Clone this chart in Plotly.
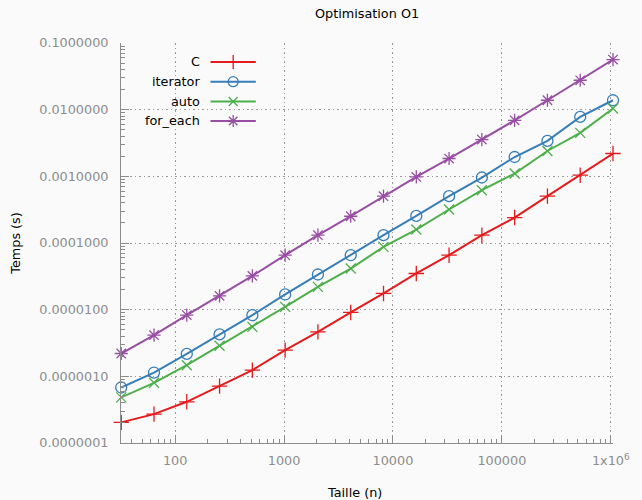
import math
import plotly.graph_objects as go

# ---- data ----
sizes = [32, 64, 128, 256, 512, 1024, 2048, 4096, 8192, 16384, 32768,
         65536, 131072, 262144, 524288, 1048576]
t_c = [2.04e-7, 2.71e-7, 4.15e-7, 7.13e-7, 1.24e-6, 2.47e-6, 4.65e-6, 9.08e-6,
       1.75e-5, 3.49e-5, 6.56e-5, 1.31e-4, 2.41e-4, 5.04e-4, 1.04e-3, 2.2e-3]
t_iterator = [6.8e-7, 1.14e-6, 2.17e-6, 4.25e-6, 8.26e-6, 1.69e-5, 3.37e-5, 6.56e-5,
              1.31e-4, 2.55e-4, 5.04e-4, 9.6e-4, 1.95e-3, 3.4e-3, 7.78e-3, 1.384e-2]
t_auto = [4.83e-7, 8.0e-7, 1.47e-6, 2.87e-6, 5.52e-6, 1.10e-5, 2.2e-5, 4.14e-5,
          8.75e-5, 1.59e-4, 3.18e-4, 6.2e-4, 1.10e-3, 2.4e-3, 4.48e-3, 1.04e-2]
t_for_each = [2.2e-6, 4.14e-6, 8.3e-6, 1.61e-5, 3.21e-5, 6.56e-5, 1.31e-4, 2.52e-4,
              5.04e-4, 9.8e-4, 1.85e-3, 3.56e-3, 6.93e-3, 1.384e-2, 2.76e-2, 5.64e-2]

series_names = ["C", "iterator", "auto", "for_each"]
x_tickvals = [100, 1000, 10000, 100000, 1000000]
x_ticktext = ["100", "1000", "10000", "100000", "1x10<sup>6</sup>"]
y_tickvals = [1e-7, 1e-6, 1e-5, 1e-4, 1e-3, 1e-2, 1e-1]
y_ticktext = ["0.0000001", "0.0000010", "0.0000100", "0.0001000",
              "0.0010000", "0.0100000", "0.1000000"]

# ---- style ----
colors = ["#e41a1c", "#377eb8", "#4daf4a", "#984ea3"]
symbols = ["cross-thin-open", "circle-open", "x-thin-open", "asterisk-open"]
msizes = [11, 11, 10, 11]
values = [t_c, t_iterator, t_auto, t_for_each]

L, R, T, B = 121, 21, 43, 57
W, H = 642, 500
PW, PH = W - L - R, H - T - B
FONT = "DejaVu Sans"
FS = 12.8
AX = "#8c8c8c"
GRID = "#9a9a9a"


def px(xp):
    return (xp - L) / PW


def py(yp):
    return (H - B - yp) / PH


fig = go.Figure()
for name, vals, col, sym, ms in zip(series_names, values, colors, symbols, msizes):
    fig.add_trace(go.Scatter(
        x=sizes, y=vals, mode="lines+markers", name=name,
        line=dict(color=col, width=2),
        marker=dict(symbol=sym, size=ms, color=col, line=dict(color=col, width=1.3)),
        showlegend=False, cliponaxis=False))

# custom gnuplot-style legend on a pixel overlay axis
leg_y = [62, 81.7, 101.5, 121]
for name, col, sym, ms, ly in zip(series_names, colors, symbols, msizes, leg_y):
    fig.add_trace(go.Scatter(x=[212, 258], y=[ly, ly], mode="lines",
                             line=dict(color=col, width=2), xaxis="x2", yaxis="y2",
                             showlegend=False, hoverinfo="skip"))
    fig.add_trace(go.Scatter(x=[235], y=[ly], mode="markers",
                             marker=dict(symbol=sym, size=ms - 1, color=col,
                                         line=dict(color=col, width=1.3)),
                             xaxis="x2", yaxis="y2", showlegend=False, hoverinfo="skip",
                             cliponaxis=False))
    fig.add_annotation(x=px(203), y=py(ly), xref="paper", yref="paper", text=name,
                       showarrow=False, xanchor="right", yanchor="middle",
                       font=dict(family=FONT, size=FS, color="#000000"))

minor_x = [m * 10 ** e for e in range(1, 6) for m in range(2, 10)]
minor_x = [v for v in minor_x if 32 <= v <= 1048576]
minor_y = [m * 10.0 ** e for e in range(-7, -1) for m in range(2, 10)]

fig.update_layout(
    width=W, height=H,
    margin=dict(l=L, r=R, t=T, b=B, pad=0),
    paper_bgcolor="#fafafa", plot_bgcolor="#fafafa",
    font=dict(family=FONT, size=FS, color="#000000"),
    xaxis=dict(type="log", range=[math.log10(32) - 0.002, math.log10(1048576)],
               tickvals=x_tickvals, ticktext=x_ticktext,
               tickfont=dict(color="#8c8c8c", size=FS),
               showline=True, linecolor=AX, linewidth=1, mirror=False,
               ticks="inside", ticklen=8, tickcolor=AX,
               showgrid=True, gridcolor=GRID, griddash="1.5px,3px", gridwidth=1,
               zeroline=False, ticklabelstandoff=6,
               minor=dict(tickvals=minor_x, ticks="inside", ticklen=4, tickcolor=AX,
                          showgrid=False)),
    yaxis=dict(type="log", range=[-7, -1],
               tickvals=y_tickvals, ticktext=y_ticktext,
               tickfont=dict(color="#8c8c8c", size=FS),
               showline=True, linecolor=AX, linewidth=1, mirror=False,
               ticks="inside", ticklen=8, tickcolor=AX,
               showgrid=True, gridcolor=GRID, griddash="1.5px,3px", gridwidth=1,
               zeroline=False, ticklabelstandoff=9,
               minor=dict(tickvals=minor_y, ticks="inside", ticklen=4, tickcolor=AX,
                          showgrid=False)),
    xaxis2=dict(overlaying="x", range=[L, W - R], visible=False, fixedrange=True),
    yaxis2=dict(overlaying="y", range=[H - B, T], visible=False, fixedrange=True),
    showlegend=False,
)

fig.add_annotation(x=px(370.5), y=py(13), xref="paper", yref="paper",
                   text="Optimisation O1",
                   showarrow=False, xanchor="center", yanchor="middle",
                   font=dict(family=FONT, size=FS, color="#000000"))
fig.add_annotation(x=px(358), y=py(492), xref="paper", yref="paper", text="Taille (n)",
                   showarrow=False, xanchor="center", yanchor="middle",
                   font=dict(family=FONT, size=FS, color="#000000"))
fig.add_annotation(x=px(13), y=py(243), xref="paper", yref="paper", text="Temps (s)",
                   textangle=-90,
                   showarrow=False, xanchor="center", yanchor="middle",
                   font=dict(family=FONT, size=FS, color="#000000"))

fig.write_html("out.html")
